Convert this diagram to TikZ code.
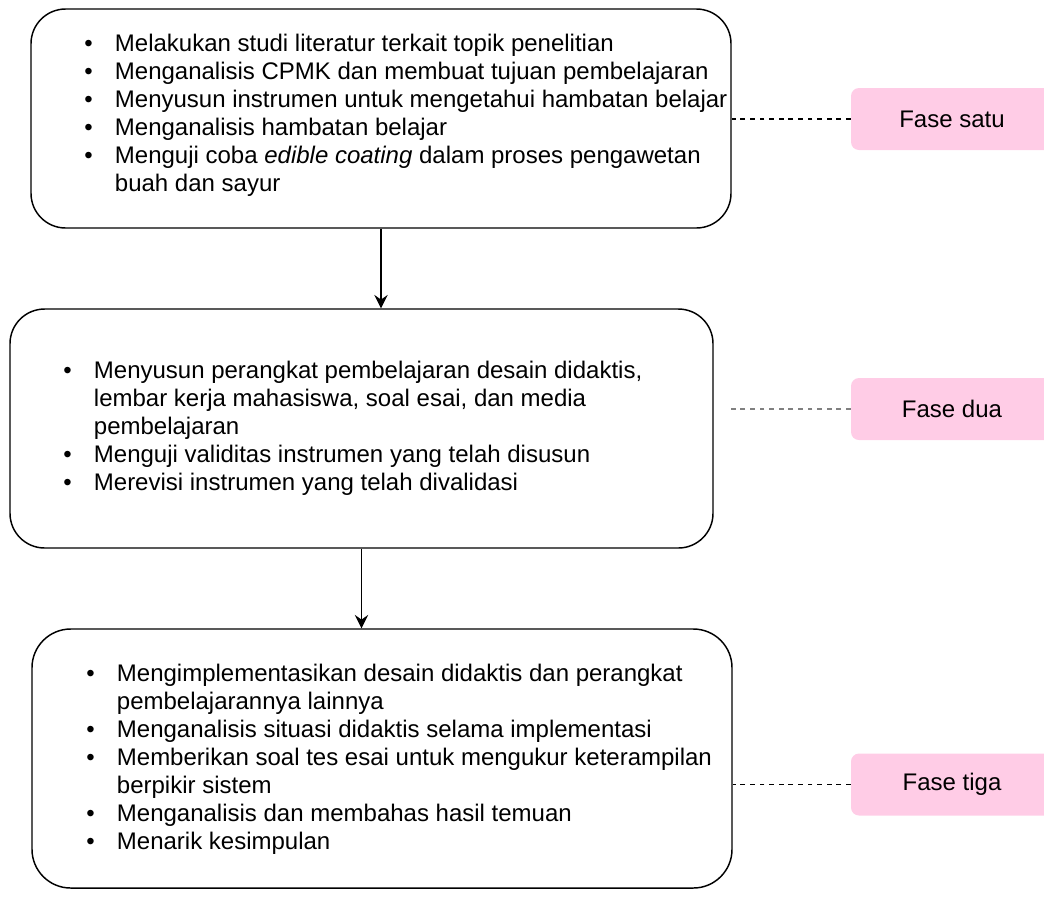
\documentclass[tikz,border=0pt]{standalone}
\usepackage{fontspec}
\setmainfont{Liberation Sans}
\usetikzlibrary{arrows.meta}

\definecolor{fasepink}{RGB}{255,204,230}
\definecolor{garisabu}{RGB}{128,128,128}

% satu baris berpoin di dalam kotak
\newcommand{\poin}{\textbullet &}
\newenvironment{daftar}{\fontsize{18}{21}\selectfont\begin{tabular}{@{}p{23pt}@{}l@{}}}{\end{tabular}}

\begin{document}
\begin{tikzpicture}[x=0.75pt, y=-0.75pt,
  tahap/.style={draw, line width=1.1pt, rounded corners=26pt},
  isi/.style={inner sep=0pt, anchor=west, align=left},
  fase/.style={fill=fasepink, rounded corners=6pt, minimum width=151.5pt,
    minimum height=46.5pt, font=\fontsize{18}{21}\selectfont},
  putus/.style={line width=1.1pt, dash pattern=on 3.6pt off 3.6pt},
  panah/.style={line width=1.2pt, -{Stealth[length=10pt, width=10pt, inset=3.5pt]}}]
\useasboundingbox (0,0) rectangle (1044,897);

% kotak tahapan
\node[tahap, minimum width=525pt, minimum height=164.25pt] (satu) at (381,118.5) {};
\node[tahap, minimum width=527.25pt, minimum height=179.25pt] (dua) at (361.5,428.5) {};
\node[tahap, minimum width=525pt, minimum height=194.25pt, rounded corners=29pt] (tiga) at (382,758.5) {};

% isi kotak
\node[isi] (isisatu) at (84,116) {\begin{daftar}
\poin Melakukan studi literatur terkait topik penelitian\\
\poin Menganalisis CPMK dan membuat tujuan pembelajaran\\
\poin Menyusun instrumen untuk mengetahui hambatan belajar\\
\poin Menganalisis hambatan belajar\\
\poin Menguji coba \textit{edible coating} dalam proses pengawetan\\
& buah dan sayur
\end{daftar}};
\node[isi] (isidua) at (63,429) {\begin{daftar}
\poin Menyusun perangkat pembelajaran desain didaktis,\\
& lembar kerja mahasiswa, soal esai, dan media\\
& pembelajaran\\
\poin Menguji validitas instrumen yang telah disusun\\
\poin Merevisi instrumen yang telah divalidasi
\end{daftar}};
\node[isi] (isitiga) at (86,760) {\begin{daftar}
\poin Mengimplementasikan desain didaktis dan perangkat\\
& pembelajarannya lainnya\\
\poin Menganalisis situasi didaktis selama implementasi\\
\poin Memberikan soal tes esai untuk mengukur keterampilan\\
& berpikir sistem\\
\poin Menganalisis dan membahas hasil temuan\\
\poin Menarik kesimpulan
\end{daftar}};

% label fase
\node[fase] (fsatu) at (952,119) {Fase satu};
\node[fase] (fdua) at (952,409) {Fase dua};
\node[fase] (ftiga) at (952,784.5) {Fase tiga};

% panah antar tahap
\draw[panah] (satu.south) -- (satu.south |- dua.north);
\draw[panah] (dua.south) -- (dua.south |- tiga.north);

% garis putus ke label
\coordinate (ujungdua) at (730,409);
\draw[putus] (fsatu.west) -- (fsatu.west -| satu.east);
\draw[putus, draw=garisabu] (fdua.west) -- (ujungdua);
\draw[putus] (ftiga.west) -- (ftiga.west -| tiga.east);
\end{tikzpicture}
\end{document}
